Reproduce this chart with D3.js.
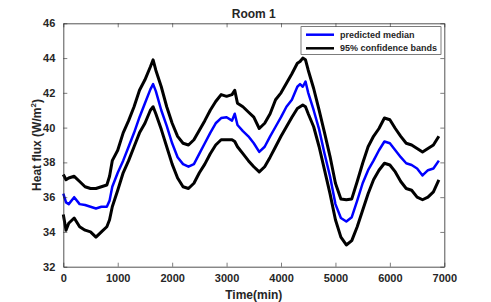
<!DOCTYPE html>
<html>
<head>
<meta charset="utf-8">
<script src="https://cdn.jsdelivr.net/npm/d3@7"></script>
<style>
  body { margin: 0; background: #fff; }
  text { font-family: "Liberation Sans", Arial, sans-serif; fill: #262626; }
</style>
</head>
<body>
<div id="chart"></div>
<script>
// Time samples (min)
const times = [0, 50, 100, 200, 300, 400, 500, 600, 700, 800, 850, 900, 1000, 1100, 1200, 1300, 1400, 1500, 1600, 1650,
  1700, 1800, 1900, 2000, 2100, 2200, 2300, 2400, 2500, 2600, 2700, 2800, 2900, 3000, 3100, 3150, 3200, 3300, 3400, 3500,
  3600, 3700, 3800, 3900, 4000, 4100, 4200, 4300, 4350, 4400, 4450, 4500, 4600, 4700, 4800, 4900, 5000, 5100, 5200, 5300,
  5400, 5500, 5600, 5700, 5800, 5900, 6000, 6100, 6200, 6300, 6400, 6500, 6600, 6700, 6800, 6900];

// predicted median
const median = [36.2, 35.7, 35.6, 36.0, 35.6, 35.55, 35.45, 35.35, 35.45, 35.45, 35.8, 36.6, 37.4, 38.1, 38.9, 39.7, 40.6, 41.4, 42.2, 42.5,
  42.1, 41.0, 40.1, 39.1, 38.3, 37.9, 37.75, 37.9, 38.5, 39.1, 39.7, 40.25, 40.55, 40.6, 40.4, 40.8, 40.15, 39.8, 39.5, 39.1,
  38.6, 38.9, 39.5, 40.05, 40.6, 41.2, 41.6, 42.35, 42.5, 42.35, 42.65, 42.0, 41.0, 39.9, 38.5, 37.2, 35.6, 34.8, 34.6, 34.85,
  35.8, 36.8, 37.55, 38.1, 38.7, 39.2, 39.1, 38.7, 38.3, 37.95, 37.85, 37.65, 37.25, 37.55, 37.65, 38.1];

// 95% confidence bands
const upper = [37.3, 37.0, 37.1, 37.2, 36.9, 36.6, 36.5, 36.5, 36.6, 36.7, 37.2, 38.1, 38.7, 39.7, 40.4, 41.2, 42.15, 42.75, 43.5, 43.9,
  43.3, 42.35, 41.2, 40.25, 39.5, 39.1, 39.0, 39.3, 39.85, 40.4, 41.0, 41.5, 41.9, 41.8, 41.9, 42.15, 41.4, 41.2, 40.9, 40.6,
  39.95, 40.25, 40.8, 41.6, 42.0, 42.55, 43.1, 43.7, 43.8, 44.0, 43.9, 43.3, 42.25, 41.0, 39.7, 38.35, 36.8, 35.9, 35.85, 35.9,
  36.9, 37.95, 38.9, 39.5, 39.95, 40.55, 40.45, 39.95, 39.5, 39.1, 39.0, 38.8, 38.6, 38.8, 39.0, 39.5];

const lower = [35.0, 34.1, 34.5, 34.8, 34.3, 34.1, 34.0, 33.7, 34.0, 34.3, 34.7, 35.45, 36.4, 37.4, 38.1, 38.9, 39.7, 40.25, 41.0, 41.2,
  40.8, 39.9, 38.9, 37.9, 37.1, 36.6, 36.5, 36.8, 37.4, 37.9, 38.5, 39.0, 39.3, 39.3, 39.3, 39.2, 38.9, 38.5, 38.1, 37.75,
  37.45, 37.75, 38.3, 38.9, 39.5, 40.05, 40.6, 41.1, 41.2, 41.3, 41.2, 40.8, 40.05, 38.9, 37.55, 36.2, 34.7, 33.7, 33.25, 33.5,
  34.3, 35.25, 36.2, 37.0, 37.55, 37.95, 37.85, 37.45, 36.9, 36.5, 36.4, 36.0, 35.85, 36.0, 36.3, 37.0];

const xTicks = [0, 1000, 2000, 3000, 4000, 5000, 6000, 7000];
const yTicks = [32, 34, 36, 38, 40, 42, 44, 46];
const legendItems = [
  { label: "predicted median", color: "#0000ff" },
  { label: "95% confidence bands", color: "#000000" }
];

const width = 491, height = 302;
const margin = { top: 23.3, right: 46.7, bottom: 35.3, left: 63.3 };
const iw = width - margin.left - margin.right;
const ih = height - margin.top - margin.bottom;
const axisColor = "#262626";

const svg = d3.select("#chart").append("svg")
  .attr("width", width)
  .attr("height", height);

const g = svg.append("g").attr("transform", `translate(${margin.left},${margin.top})`);

const x = d3.scaleLinear().domain([0, 7000]).range([0, iw]);
const y = d3.scaleLinear().domain([32, 46]).range([ih, 0]);

// curves
const line = d3.line()
  .x((d, i) => x(times[i]))
  .y(d => y(d));

[upper, lower].forEach(s => {
  g.append("path")
    .attr("d", line(s))
    .attr("fill", "none")
    .attr("stroke", "#000")
    .attr("stroke-width", 3)
    .attr("stroke-linejoin", "round");
});

g.append("path")
  .attr("d", line(median))
  .attr("fill", "none")
  .attr("stroke", "#0000ff")
  .attr("stroke-width", 2.5)
  .attr("stroke-linejoin", "round");

// axes (box with inward ticks)
const tickLen = 4;
const styleAxis = sel => {
  sel.select(".domain").attr("stroke", axisColor).attr("stroke-width", 0.8);
  sel.selectAll(".tick line").attr("stroke", axisColor).attr("stroke-width", 0.6);
  sel.selectAll(".tick text")
    .attr("font-size", "11px")
    .attr("font-weight", "bold")
    .attr("fill", axisColor);
};

g.append("g")
  .attr("transform", `translate(0,${ih})`)
  .call(d3.axisBottom(x).tickValues(xTicks).tickFormat(d3.format("d"))
    .tickSizeInner(-tickLen).tickSizeOuter(0).tickPadding(8))
  .call(styleAxis);

g.append("g")
  .call(d3.axisTop(x).tickValues(xTicks).tickFormat("")
    .tickSizeInner(-tickLen).tickSizeOuter(0))
  .call(styleAxis);

g.append("g")
  .call(d3.axisLeft(y).tickValues(yTicks).tickFormat(d3.format("d"))
    .tickSizeInner(-tickLen).tickSizeOuter(0).tickPadding(8))
  .call(styleAxis);

g.append("g")
  .attr("transform", `translate(${iw},0)`)
  .call(d3.axisRight(y).tickValues(yTicks).tickFormat("")
    .tickSizeInner(-tickLen).tickSizeOuter(0))
  .call(styleAxis);

// title and labels
svg.append("text")
  .attr("x", margin.left + iw / 2)
  .attr("y", 18)
  .attr("text-anchor", "middle")
  .attr("font-size", "12px")
  .attr("font-weight", "bold")
  .text("Room 1");

svg.append("text")
  .attr("x", margin.left + iw / 2)
  .attr("y", 299)
  .attr("text-anchor", "middle")
  .attr("font-size", "12px")
  .attr("font-weight", "bold")
  .text("Time(min)");

const yl = svg.append("text")
  .attr("transform", `translate(41,${margin.top + ih / 2}) rotate(-90)`)
  .attr("text-anchor", "middle")
  .attr("font-size", "12px")
  .attr("font-weight", "bold");
yl.append("tspan").text("Heat flux (W/m");
yl.append("tspan").attr("font-size", "8px").attr("dy", -5).text("2");
yl.append("tspan").attr("dy", 5).text(")");

// legend
const lg = svg.append("g").attr("transform", "translate(301,26.7)");
lg.append("rect")
  .attr("width", 140)
  .attr("height", 27.6)
  .attr("fill", "#fff")
  .attr("stroke", "#262626")
  .attr("stroke-width", 0.6);

legendItems.forEach((d, i) => {
  const yy = 8 + i * 13.6;
  lg.append("line")
    .attr("x1", 5).attr("x2", 33)
    .attr("y1", yy).attr("y2", yy)
    .attr("stroke", d.color)
    .attr("stroke-width", 2.5);
  lg.append("text")
    .attr("x", 39)
    .attr("y", yy + 3.2)
    .attr("font-size", "9px")
    .attr("font-weight", "bold")
    .text(d.label);
});
</script>
</body>
</html>
